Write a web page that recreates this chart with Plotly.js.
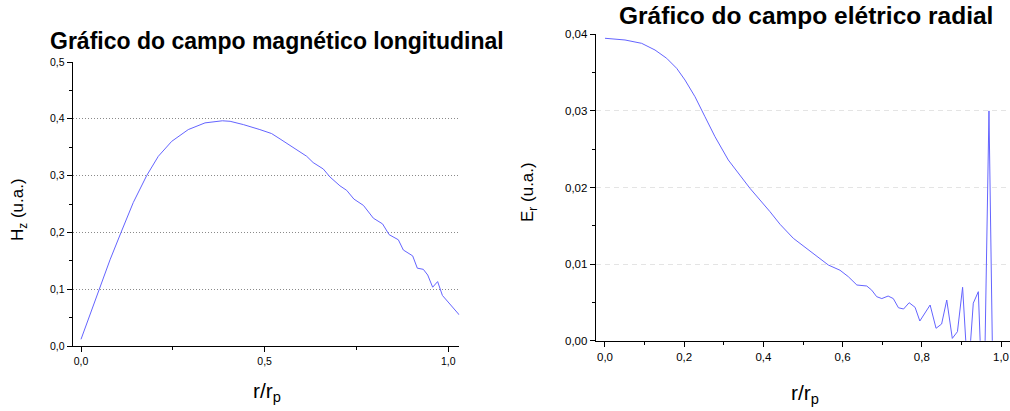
<!DOCTYPE html>
<html>
<head>
<meta charset="utf-8">
<script src="https://cdn.plot.ly/plotly-3.0.1.min.js"></script>
<style>html,body{margin:0;padding:0;background:#fff;}#chart{width:1010px;height:411px;}</style>
</head>
<body>
<div id="chart"></div>
<script>
// Left chart: longitudinal magnetic field H_z vs r/r_p
const hzR = [0, 0.049, 0.079, 0.109, 0.1424, 0.1788, 0.2105, 0.2469, 0.292, 0.3376, 0.3648, 0.385, 0.406, 0.442, 0.487, 0.519, 0.542, 0.569, 0.5916, 0.6145, 0.632, 0.6597, 0.678, 0.705, 0.7234, 0.743, 0.769, 0.796, 0.821, 0.839, 0.864, 0.8776, 0.903, 0.9157, 0.932, 0.944, 0.9575, 0.971, 0.984, 1.03];
const hzVal = [0.0118, 0.1, 0.1517, 0.2, 0.2527, 0.3, 0.334, 0.3603, 0.381, 0.3928, 0.3956, 0.3965, 0.3956, 0.3898, 0.381, 0.374, 0.3645, 0.3527, 0.3444, 0.334, 0.323, 0.3116, 0.2975, 0.282, 0.274, 0.2587, 0.2475, 0.225, 0.215, 0.196, 0.187, 0.169, 0.1587, 0.137, 0.135, 0.125, 0.1035, 0.1134, 0.089, 0.0547];

// Right chart: radial electric field E_r vs r/r_p
const erR = [0, 0.0505, 0.0926, 0.1263, 0.1557, 0.181, 0.202, 0.2273, 0.2525, 0.2778, 0.3114, 0.345, 0.366, 0.4167, 0.442, 0.4755, 0.509, 0.5346, 0.564, 0.5934, 0.6144, 0.636, 0.661, 0.6735, 0.686, 0.699, 0.715, 0.728, 0.741, 0.754, 0.768, 0.783, 0.795, 0.821, 0.836, 0.850, 0.863, 0.877, 0.890, 0.903, 0.9166, 0.930, 0.9427, 0.956, 0.9696, 0.983];
const erVal = [0.03948, 0.03926, 0.03882, 0.03795, 0.03687, 0.03556, 0.03403, 0.03185, 0.02924, 0.02663, 0.02359, 0.0213, 0.0199, 0.01684, 0.0152, 0.01337, 0.01206, 0.01097, 0.00988, 0.0092, 0.00836, 0.00727, 0.00714, 0.0066, 0.00575, 0.0055, 0.00583, 0.0055, 0.0043, 0.00414, 0.00496, 0.00436, 0.00257, 0.00466, 0.00162, 0.00218, 0.00531, 0.0003, 0.00118, 0.00697, -0.0049, 0.0049, 0.0064, -0.012, 0.030, -0.018];

// Text
const titleLeft = 'Gráfico do campo magnético longitudinal';
const titleRight = 'Gráfico do campo elétrico radial';
const yTitleLeft = 'H<sub>z</sub> (u.a.)';
const yTitleRight = 'E<sub>r</sub> (u.a.)';
const xTitle = 'r/r<sub>p</sub>';

const FONT = 'Liberation Sans, Arial, sans-serif';
const lineColor = 'rgb(100,100,255)';

const traces = [
  {x: hzR, y: hzVal, type: 'scatter', mode: 'lines', line: {color: lineColor, width: 1}, xaxis: 'x', yaxis: 'y', hoverinfo: 'skip'},
  {x: erR, y: erVal, type: 'scatter', mode: 'lines', line: {color: lineColor, width: 1}, xaxis: 'x2', yaxis: 'y2', hoverinfo: 'skip'}
];

const axBase = {
  showline: true, linecolor: '#000', linewidth: 1.3, zeroline: false,
  ticks: 'outside', ticklen: 5, tickwidth: 1, tickcolor: '#000',
  fixedrange: true
};

const layout = {
  width: 1010, height: 411,
  margin: {l: 0, r: 0, t: 0, b: 0},
  paper_bgcolor: '#fff', plot_bgcolor: '#fff',
  showlegend: false,
  separators: ',.',
  font: {family: FONT, color: '#000'},
  xaxis: Object.assign({}, axBase, {
    domain: [73/1010, 459.3/1010], range: [-0.0218, 1.03],
    dtick: 0.5, tick0: 0, tickformat: '.1f', showgrid: false,
    tickfont: {size: 10.5, family: FONT},
    minor: {ticks: 'outside', ticklen: 3, dtick: 0.25, tick0: 0, tickcolor: '#000', showgrid: false},
    anchor: 'y'
  }),
  yaxis: Object.assign({}, axBase, {
    domain: [65/411, 349/411], range: [0, 0.5],
    dtick: 0.1, tick0: 0, tickformat: '.1f',
    showgrid: true, gridcolor: '#8a8a8a', griddash: '1px,2px', gridwidth: 1,
    tickfont: {size: 10.5, family: FONT},
    minor: {ticks: 'outside', ticklen: 3, dtick: 0.05, tick0: 0, tickcolor: '#000', showgrid: false},
    anchor: 'x'
  }),
  xaxis2: Object.assign({}, axBase, {
    domain: [596/1010, 1], range: [-0.0227, 1.0227],
    dtick: 0.2, tick0: 0, tickformat: '.1f', showgrid: false,
    tickfont: {size: 11.5, family: FONT},
    minor: {ticks: 'outside', ticklen: 3, dtick: 0.1, tick0: 0, tickcolor: '#000', showgrid: false},
    anchor: 'y2'
  }),
  yaxis2: Object.assign({}, axBase, {
    domain: [70.3/411, 376.7/411], range: [0, 0.04],
    dtick: 0.01, tick0: 0, tickformat: '.2f',
    showgrid: true, gridcolor: '#e4e4e4', griddash: '5px,4px', gridwidth: 1,
    tickfont: {size: 11.5, family: FONT},
    minor: {ticks: 'outside', ticklen: 3, dtick: 0.005, tick0: 0, tickcolor: '#000', showgrid: false},
    anchor: 'x2'
  }),
  annotations: [
    {text: '<b>' + titleLeft + '</b>', xref: 'paper', yref: 'paper', x: 277/1010, y: 1 - 41/411, xanchor: 'center', yanchor: 'middle', showarrow: false, font: {size: 23, family: FONT, color: '#000'}},
    {text: '<b>' + titleRight + '</b>', xref: 'paper', yref: 'paper', x: 806/1010, y: 1 - 16/411, xanchor: 'center', yanchor: 'middle', showarrow: false, font: {size: 24.5, family: FONT, color: '#000'}},
    {text: yTitleLeft, xref: 'paper', yref: 'paper', x: 19/1010, y: 1 - 210/411, xanchor: 'center', yanchor: 'middle', textangle: -90, showarrow: false, font: {size: 17, family: FONT, color: '#000'}},
    {text: yTitleRight, xref: 'paper', yref: 'paper', x: 529/1010, y: 1 - 192/411, xanchor: 'center', yanchor: 'middle', textangle: -90, showarrow: false, font: {size: 17, family: FONT, color: '#000'}},
    {text: xTitle, xref: 'paper', yref: 'paper', x: 267/1010, y: 1 - 392/411, xanchor: 'center', yanchor: 'middle', showarrow: false, font: {size: 21, family: FONT, color: '#000'}},
    {text: xTitle, xref: 'paper', yref: 'paper', x: 805/1010, y: 1 - 394/411, xanchor: 'center', yanchor: 'middle', showarrow: false, font: {size: 21, family: FONT, color: '#000'}}
  ]
};

Plotly.newPlot('chart', traces, layout, {staticPlot: true, displayModeBar: false});
</script>
</body>
</html>
